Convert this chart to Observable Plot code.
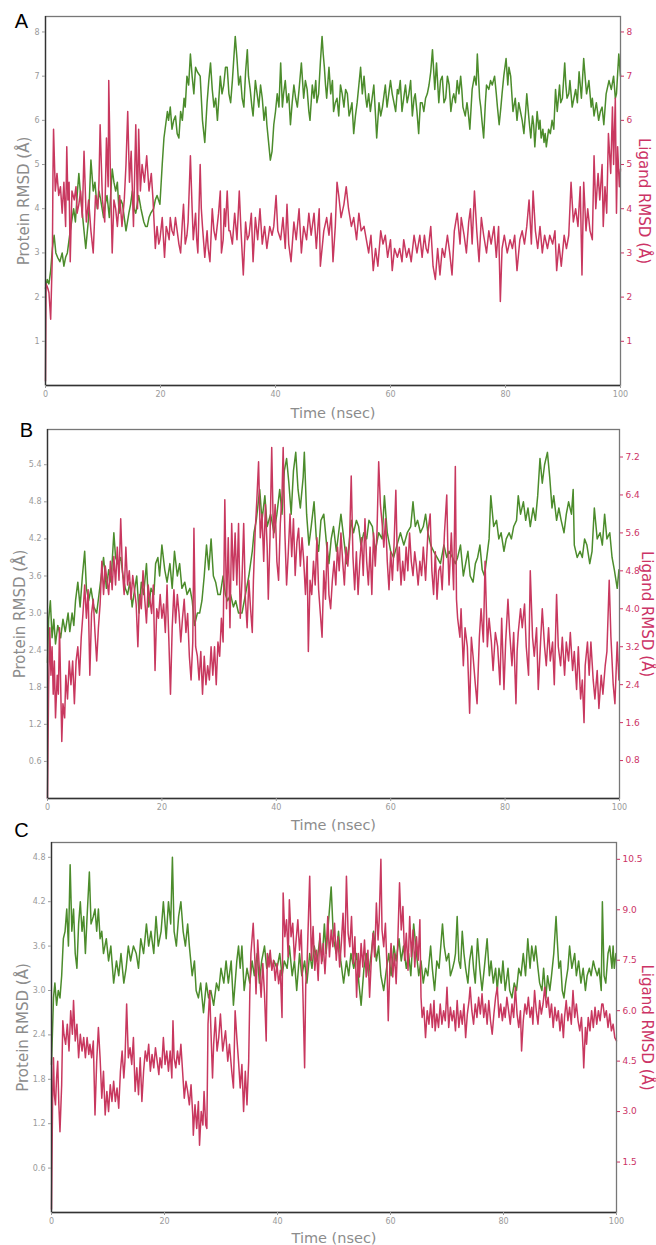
<!DOCTYPE html>
<html>
<head>
<meta charset="utf-8">
<script src="https://cdn.jsdelivr.net/npm/d3@7"></script>
<script src="https://cdn.jsdelivr.net/npm/@observablehq/plot@0.6"></script>
<style>
  html, body { margin: 0; padding: 0; background: #fff; }
  #wrap { position: relative; width: 656px; height: 1245px; }
  #wrap > svg, #wrap > figure { position: absolute; left: 0; margin: 0; }
</style>
</head>
<body>
<div id="wrap"></div>
<script>
// ---------- data: [time (nsec), RMSD] ----------
const proteinA = [[0,2.2],[0.3,2.4],[0.6,2.3],[0.9,2.6],[1.2,3.1],[1.5,3.4],[1.8,3.0],[2.1,2.9],[2.5,2.8],[2.9,3.0],[3.2,2.7],[3.5,2.9],[3.8,3.0],[4.3,3.5],[4.9,4.0],[5.2,3.7],[5.5,4.3],[5.8,4.8],[6.1,4.3],[6.4,3.9],[6.7,3.5],[7.0,3.1],[7.5,3.8],[7.9,5.1],[8.3,4.4],[8.6,4.6],[9.0,4.0],[9.3,4.4],[9.6,4.2],[10.1,3.8],[10.4,4.1],[10.7,4.3],[11.1,3.8],[11.6,4.9],[11.9,4.6],[12.2,4.4],[12.5,4.6],[12.8,3.9],[13.1,4.2],[13.4,4.1],[13.7,3.8],[14.0,3.5],[14.5,3.9],[14.8,4.1],[15.1,4.4],[15.4,4.0],[15.7,3.9],[16.2,4.3],[16.6,4.0],[17.1,3.7],[17.4,3.6],[17.7,3.6],[18.0,3.8],[18.3,3.9],[18.8,4.0],[19.1,4.2],[19.4,4.3],[19.9,4.1],[20.3,5.0],[20.6,5.6],[20.9,5.9],[21.2,6.2],[21.4,6.0],[21.7,6.3],[22.0,5.8],[22.3,6.0],[22.6,6.1],[22.9,5.7],[23.2,5.6],[23.5,6.2],[23.8,6.0],[24.1,6.5],[24.3,6.3],[24.6,7.0],[24.9,6.8],[25.2,7.5],[25.5,7.0],[25.8,6.6],[26.1,7.2],[26.4,7.1],[26.9,7.0],[27.3,6.0],[27.7,5.5],[28.1,6.4],[28.4,6.9],[28.7,7.3],[29.0,6.7],[29.3,6.3],[29.6,6.5],[29.9,6.0],[30.4,7.0],[30.7,6.6],[31.0,6.8],[31.3,7.2],[31.6,7.2],[31.9,6.6],[32.2,6.4],[32.5,6.9],[32.7,7.3],[33.0,7.9],[33.3,7.4],[33.6,6.8],[33.9,7.0],[34.2,6.5],[34.5,6.3],[34.8,7.1],[35.1,7.6],[35.3,7.0],[35.6,6.7],[35.9,6.3],[36.1,6.1],[36.5,6.9],[36.8,6.6],[37.1,6.3],[37.4,6.8],[37.7,6.5],[38.0,6.0],[38.3,6.3],[38.5,5.9],[38.8,5.5],[39.1,5.1],[39.4,5.3],[39.7,5.9],[40.0,6.2],[40.3,6.6],[40.6,6.3],[40.9,7.3],[41.2,6.3],[41.4,6.6],[41.7,6.9],[42.0,6.4],[42.3,6.6],[42.6,5.9],[42.9,6.4],[43.2,6.8],[43.5,6.5],[43.8,6.3],[44.1,6.7],[44.5,7.3],[44.9,6.5],[45.2,6.9],[45.5,6.7],[45.8,6.2],[46.0,6.0],[46.4,6.8],[46.7,6.5],[47.0,6.9],[47.2,6.4],[47.5,6.6],[47.8,7.3],[48.1,7.9],[48.3,7.5],[48.5,7.2],[48.7,6.8],[48.9,6.5],[49.3,7.2],[49.6,6.6],[49.9,6.9],[50.1,6.2],[50.4,6.4],[50.7,6.5],[51.0,6.1],[51.3,6.8],[51.6,6.6],[51.9,6.3],[52.2,6.7],[52.5,6.6],[52.8,6.1],[53.0,6.2],[53.3,6.4],[53.6,5.7],[53.9,6.1],[54.2,6.4],[54.5,6.8],[54.8,7.2],[55.1,6.6],[55.4,7.0],[55.7,6.5],[55.9,6.3],[56.2,6.6],[56.5,6.2],[56.8,6.5],[57.1,6.8],[57.4,6.1],[57.6,5.6],[58.0,6.4],[58.3,6.1],[58.6,6.3],[58.9,6.6],[59.1,6.8],[59.4,6.3],[59.7,6.6],[60.0,6.9],[60.3,6.6],[60.6,6.4],[60.9,6.2],[61.2,6.7],[61.4,6.6],[61.7,6.9],[62.0,6.2],[62.3,6.5],[62.6,6.8],[62.9,6.4],[63.2,6.6],[63.5,6.9],[63.8,6.1],[64.1,6.5],[64.3,6.6],[64.6,6.2],[64.9,5.7],[65.2,6.4],[65.5,6.4],[65.8,6.2],[66.1,6.5],[66.4,6.6],[66.7,6.8],[67.0,7.1],[67.3,7.6],[67.7,6.7],[68.0,7.3],[68.4,6.4],[68.7,6.9],[69.0,7.0],[69.3,6.4],[69.6,6.5],[69.9,7.0],[70.2,6.8],[70.5,6.2],[70.8,6.5],[71.0,6.6],[71.3,6.4],[71.6,6.9],[71.9,6.6],[72.2,7.0],[72.4,6.7],[72.6,6.3],[73.0,6.1],[73.3,6.4],[73.5,6.2],[73.8,5.8],[74.2,6.7],[74.6,7.0],[74.9,6.8],[75.1,7.5],[75.5,6.5],[75.7,6.3],[75.9,6.0],[76.2,5.6],[76.5,6.4],[76.7,6.8],[77.1,6.7],[77.4,6.9],[77.7,6.8],[78.1,7.0],[78.4,6.6],[78.6,6.3],[78.9,5.9],[79.2,6.3],[79.4,6.6],[79.7,7.0],[80.1,7.4],[80.4,6.8],[80.6,7.2],[80.9,7.0],[81.1,6.6],[81.3,6.2],[81.7,6.5],[82.0,6.0],[82.3,6.4],[82.6,6.2],[82.9,6.0],[83.2,5.7],[83.5,6.2],[83.7,6.6],[84.1,6.0],[84.4,5.6],[84.7,6.1],[84.9,5.9],[85.1,5.4],[85.5,6.2],[85.8,5.8],[86.0,6.0],[86.2,5.6],[86.5,5.8],[86.7,5.5],[86.9,5.7],[87.1,5.4],[87.5,5.8],[87.8,5.7],[88.1,6.0],[88.4,5.8],[88.7,6.7],[89.0,6.2],[89.4,6.8],[89.6,6.4],[89.9,6.5],[90.3,7.3],[90.5,6.8],[90.7,6.5],[91.0,6.6],[91.2,6.9],[91.6,6.3],[91.9,6.5],[92.2,6.7],[92.5,6.4],[92.8,7.1],[93.2,6.5],[93.6,7.4],[93.9,6.9],[94.1,6.6],[94.5,6.9],[94.9,6.3],[95.1,6.5],[95.4,6.1],[95.8,6.4],[96.2,6.0],[96.5,6.2],[96.8,6.3],[97.1,5.9],[97.5,6.6],[98.0,6.9],[98.4,6.7],[98.8,7.0],[99.1,6.5],[99.3,6.6],[99.7,7.5],[100.0,7.0]];

const ligandA = [[0,0.1],[0.1,2.3],[0.4,2.2],[0.6,2.1],[0.9,1.5],[1.2,3.0],[1.3,4.8],[1.4,5.8],[1.7,4.4],[2.0,4.8],[2.3,4.3],[2.6,4.5],[2.9,3.9],[3.2,4.6],[3.5,3.6],[3.7,5.4],[3.9,4.2],[4.1,4.6],[4.3,2.8],[4.6,4.4],[5.0,4.2],[5.3,4.5],[5.5,3.9],[5.8,4.1],[6.1,4.4],[6.4,3.8],[6.7,5.3],[7.1,3.7],[7.5,4.2],[7.9,3.5],[8.3,3.0],[8.7,4.3],[9.1,4.0],[9.3,4.6],[9.5,5.9],[9.9,4.2],[10.3,3.7],[10.6,5.6],[10.9,4.5],[11.0,6.9],[11.3,4.7],[11.6,3.0],[11.9,4.2],[12.2,4.0],[12.5,3.6],[12.9,4.3],[13.3,3.6],[13.7,4.2],[14.0,5.0],[14.3,6.2],[14.6,4.6],[14.9,5.3],[15.3,3.6],[15.7,5.9],[16.0,4.0],[16.2,5.8],[16.5,4.4],[16.8,5.0],[17.2,4.6],[17.6,5.2],[18.0,4.4],[18.4,4.8],[18.7,4.2],[19.1,3.1],[19.4,3.6],[19.7,3.2],[19.9,3.3],[20.3,3.8],[20.7,2.9],[21.0,3.6],[21.2,3.5],[21.5,3.3],[21.7,3.8],[22.0,3.5],[22.3,3.4],[22.6,3.8],[22.9,3.5],[23.2,3.2],[23.5,3.0],[23.8,3.7],[24.0,4.1],[24.3,3.2],[24.6,3.4],[24.8,3.7],[25.2,5.2],[25.5,4.0],[25.7,3.3],[26.1,3.9],[26.3,3.3],[26.5,3.0],[26.9,5.0],[27.1,4.0],[27.3,3.6],[27.7,2.9],[28.1,3.5],[28.3,3.1],[28.6,2.8],[29.0,4.0],[29.3,3.5],[29.6,3.3],[30.1,3.9],[30.4,4.4],[30.6,3.0],[30.9,3.3],[31.1,4.0],[31.3,3.6],[31.6,4.4],[31.9,3.5],[32.1,3.5],[32.5,3.2],[32.9,3.9],[33.3,3.3],[33.7,4.4],[34.0,3.5],[34.4,2.5],[34.8,3.7],[35.1,3.3],[35.4,3.4],[35.8,3.9],[36.1,2.8],[36.5,3.8],[36.9,3.3],[37.3,4.0],[37.7,3.2],[38.1,3.6],[38.5,3.1],[39.0,3.6],[39.4,3.4],[39.7,3.6],[40.1,4.3],[40.4,3.5],[40.9,3.3],[41.3,3.8],[41.7,3.1],[42.0,4.1],[42.3,3.2],[42.7,2.8],[43.2,3.7],[43.6,3.3],[44.1,4.0],[44.5,3.0],[44.9,3.6],[45.4,3.3],[45.8,3.9],[46.2,3.4],[46.7,3.9],[47.1,3.1],[47.6,4.0],[47.8,2.7],[48.4,3.5],[48.9,3.8],[49.3,3.4],[49.7,3.9],[50.0,2.8],[50.4,3.6],[50.7,4.6],[51.0,4.3],[51.4,3.8],[51.9,4.1],[52.3,4.5],[52.7,4.0],[53.2,3.6],[53.6,3.8],[54.1,3.3],[54.5,3.9],[54.9,3.5],[55.4,3.6],[55.8,3.3],[56.2,3.0],[56.6,3.4],[57.0,2.6],[57.4,3.1],[57.8,2.7],[58.3,3.5],[58.7,3.2],[59.1,3.4],[59.5,2.9],[60.0,3.3],[60.3,2.6],[60.7,3.1],[61.2,2.9],[61.6,3.1],[62.0,2.8],[62.3,3.3],[62.8,2.9],[63.2,3.1],[63.6,2.8],[64.1,3.4],[64.6,3.0],[65.1,3.4],[65.5,2.9],[65.9,3.4],[66.2,3.1],[66.5,3.0],[67.0,3.6],[67.4,2.7],[67.8,2.4],[68.2,3.1],[68.6,2.5],[69.0,3.1],[69.4,2.9],[69.9,3.4],[70.3,3.0],[70.7,2.5],[71.1,3.5],[71.6,3.9],[72.1,3.2],[72.3,3.8],[72.8,3.4],[73.2,3.0],[73.6,3.7],[73.9,4.0],[74.2,3.2],[74.6,4.4],[75.0,3.5],[75.4,2.8],[75.8,3.8],[76.2,3.4],[76.7,3.0],[77.1,3.5],[77.5,3.2],[78.0,3.6],[78.4,2.9],[78.8,3.6],[79.1,1.9],[79.4,3.1],[79.8,3.4],[80.3,3.0],[80.8,3.3],[81.2,3.1],[81.6,3.4],[82.0,2.6],[82.5,3.3],[82.9,3.5],[83.3,3.2],[83.7,3.6],[84.1,4.2],[84.5,3.2],[84.8,4.4],[85.2,3.5],[85.6,3.1],[86.0,3.6],[86.4,3.0],[86.8,3.4],[87.3,3.1],[87.7,3.4],[88.2,3.2],[88.6,3.5],[88.9,2.6],[89.3,3.2],[89.7,2.7],[90.2,3.4],[90.6,3.1],[91.0,3.4],[91.4,4.6],[91.8,3.7],[92.2,4.0],[92.6,3.6],[93.0,4.5],[93.3,2.5],[93.6,4.6],[94.0,3.5],[94.3,4.0],[94.7,3.5],[95.1,3.3],[95.4,5.2],[95.7,4.0],[96.1,4.8],[96.4,4.2],[96.8,5.0],[97.0,3.6],[97.3,4.5],[97.6,3.9],[97.9,5.7],[98.3,4.8],[98.6,6.3],[98.8,5.0],[99.1,6.5],[99.3,3.9],[99.5,5.4],[99.8,4.5],[100.0,4.9]];

const proteinB = [[0,2.2],[0.2,2.9],[0.5,3.2],[0.8,2.6],[1.1,2.9],[1.4,2.5],[1.8,2.8],[2.3,2.6],[2.7,2.9],[3.1,2.7],[3.6,3.0],[3.9,2.7],[4.3,3.0],[4.6,2.8],[4.9,3.2],[5.3,3.5],[5.7,3.1],[6.1,3.6],[6.5,4.0],[6.8,3.4],[7.2,3.2],[7.6,3.4],[8.1,3.1],[8.6,3.0],[9.0,3.3],[9.4,3.6],[9.8,3.9],[10.3,3.4],[10.7,3.7],[11.1,3.5],[11.6,4.3],[11.9,3.9],[12.3,3.8],[12.8,3.9],[13.2,3.6],[13.6,3.4],[14.0,3.3],[14.4,3.5],[14.8,3.1],[15.1,3.3],[15.6,3.6],[16.0,3.0],[16.4,3.5],[16.8,3.3],[17.3,3.8],[17.7,3.1],[18.1,3.4],[18.6,3.3],[18.9,3.8],[19.3,3.9],[19.6,3.6],[20.0,4.1],[20.5,3.7],[20.9,3.5],[21.4,3.8],[21.8,3.4],[22.2,4.0],[22.7,3.6],[23.1,3.8],[23.5,3.4],[24.0,3.5],[24.4,3.3],[24.9,3.4],[25.3,3.2],[25.7,2.8],[26.2,3.0],[26.6,3.0],[27.0,3.2],[27.4,3.6],[27.8,4.1],[28.2,3.7],[28.6,4.2],[29.0,3.6],[29.4,3.5],[29.8,3.3],[30.2,3.3],[30.7,3.6],[31.1,3.3],[31.5,3.2],[32.0,3.3],[32.5,3.1],[32.9,3.2],[33.4,3.0],[34.0,3.0],[34.6,3.3],[35.2,3.6],[35.8,4.0],[36.1,4.3],[36.5,4.5],[37.1,5.0],[37.5,4.5],[38.0,4.9],[38.4,4.4],[39.0,4.6],[39.6,4.3],[40.1,4.6],[40.6,5.0],[41.0,4.6],[41.4,5.3],[41.8,5.5],[42.2,5.1],[42.6,4.6],[43.0,5.3],[43.4,5.6],[43.8,5.0],[44.2,4.7],[44.7,5.2],[44.9,5.6],[45.3,4.6],[45.7,4.1],[46.1,4.4],[46.6,4.8],[47.0,4.2],[47.4,4.0],[47.8,4.5],[48.3,4.6],[48.8,4.1],[49.2,3.8],[49.6,4.2],[50.0,4.4],[50.5,4.0],[50.9,4.3],[51.3,4.6],[51.8,4.2],[52.3,3.8],[52.7,4.1],[53.1,4.5],[53.5,4.3],[54.0,4.5],[54.4,4.4],[54.8,4.1],[55.3,4.3],[55.8,4.2],[56.2,4.5],[56.8,4.4],[57.3,4.0],[57.9,4.3],[58.5,4.2],[58.9,4.9],[59.4,4.3],[60.0,4.0],[60.5,3.9],[61.1,4.1],[61.7,4.3],[62.3,4.1],[62.9,4.3],[63.5,4.4],[63.9,4.8],[64.3,4.4],[64.7,4.5],[65.2,4.3],[65.7,4.4],[66.1,4.6],[66.5,4.3],[67.0,4.1],[67.5,4.0],[68.1,3.9],[68.7,3.8],[69.3,4.1],[69.8,3.9],[70.2,4.0],[70.8,3.9],[71.3,3.8],[71.7,3.9],[72.2,4.1],[72.7,3.6],[73.1,3.8],[73.5,4.0],[73.9,3.6],[74.4,3.5],[74.8,3.8],[75.2,3.9],[75.6,4.1],[76.0,3.7],[76.4,3.6],[76.8,3.9],[77.2,4.2],[77.5,4.9],[78.0,4.4],[78.5,4.5],[78.9,4.2],[79.3,4.3],[79.8,4.0],[80.2,4.2],[80.7,4.3],[81.1,4.2],[81.5,4.4],[82.0,4.5],[82.3,4.9],[82.7,4.6],[83.2,4.8],[83.6,4.5],[84.0,4.7],[84.4,4.4],[84.9,4.7],[85.3,4.5],[85.7,4.9],[86.1,5.5],[86.5,5.1],[86.9,5.4],[87.4,5.6],[87.8,5.2],[88.2,4.7],[88.5,4.9],[89.0,4.5],[89.4,4.7],[89.8,4.5],[90.3,4.3],[90.7,4.6],[91.1,4.8],[91.6,4.6],[91.9,5.0],[92.1,4.1],[92.6,3.9],[93.1,4.0],[93.5,3.9],[93.9,4.2],[94.3,4.1],[94.8,3.8],[95.2,4.0],[95.6,4.7],[96.1,4.2],[96.6,4.3],[97.0,4.1],[97.4,4.6],[97.8,4.2],[98.3,4.3],[98.7,3.9],[99.1,3.7],[99.6,3.4],[99.9,3.7]];

const ligandB = [[0,0.0],[0.2,2.4],[0.4,3.6],[0.6,2.6],[0.8,3.2],[1.0,2.2],[1.2,2.9],[1.4,1.7],[1.7,2.6],[1.9,2.2],[2.1,3.6],[2.3,2.4],[2.5,1.2],[2.7,2.0],[3.0,1.7],[3.2,2.6],[3.5,2.1],[3.8,2.9],[4.1,2.4],[4.4,2.9],[4.7,2.0],[5.0,2.9],[5.3,3.2],[5.6,2.6],[5.9,3.4],[6.2,3.9],[6.5,4.5],[6.8,3.8],[7.1,4.4],[7.4,2.6],[7.7,3.9],[8.0,4.2],[8.3,3.5],[8.6,2.9],[8.9,3.6],[9.2,4.1],[9.5,5.0],[9.8,4.3],[10.1,4.9],[10.4,4.6],[10.7,4.3],[11.0,5.0],[11.3,4.4],[11.6,5.1],[11.9,4.5],[12.2,5.3],[12.5,4.6],[12.8,5.9],[13.1,4.8],[13.4,4.3],[13.7,5.3],[14.0,4.5],[14.3,4.8],[14.6,4.2],[14.9,4.7],[15.2,4.4],[15.5,4.1],[15.8,3.2],[16.1,4.3],[16.4,4.0],[16.7,4.8],[17.0,4.2],[17.3,3.7],[17.6,4.5],[17.9,4.2],[18.2,3.9],[18.5,4.5],[18.8,2.7],[19.1,4.0],[19.4,3.8],[19.7,4.3],[20.0,3.8],[20.3,4.1],[20.6,3.5],[20.9,4.5],[21.2,3.4],[21.5,2.2],[21.8,3.6],[22.1,4.4],[22.4,3.7],[22.7,4.3],[23.0,3.9],[23.3,3.3],[23.6,3.8],[23.9,4.2],[24.2,3.5],[24.5,3.9],[24.8,3.0],[25.1,2.5],[25.4,3.3],[25.6,5.7],[25.9,3.2],[26.2,3.0],[26.5,2.5],[26.8,3.1],[27.1,2.2],[27.4,3.0],[27.7,2.4],[28.0,2.8],[28.3,2.5],[28.6,3.2],[28.9,2.6],[29.2,3.2],[29.5,2.4],[29.8,3.3],[30.1,3.0],[30.4,3.8],[30.7,3.3],[31.0,6.3],[31.3,4.0],[31.6,5.5],[31.9,3.6],[32.2,5.8],[32.5,4.6],[32.8,5.6],[33.1,4.5],[33.4,5.8],[33.7,3.8],[34.0,4.6],[34.3,5.8],[34.6,4.2],[34.9,3.6],[35.2,4.6],[35.5,4.0],[35.8,3.5],[36.0,4.6],[36.3,5.6],[36.6,6.3],[36.9,7.1],[37.2,5.5],[37.5,6.0],[37.8,5.0],[38.1,6.2],[38.4,5.3],[38.6,4.2],[38.9,5.5],[39.2,7.4],[39.5,5.5],[39.8,6.2],[40.1,5.0],[40.4,4.6],[40.7,5.8],[41.0,6.4],[41.2,7.4],[41.5,5.6],[41.8,4.5],[42.1,5.2],[42.4,6.0],[42.7,5.1],[43.0,5.9],[43.3,4.7],[43.6,5.4],[43.9,5.7],[44.2,4.9],[44.5,5.5],[44.8,5.0],[45.1,4.3],[45.4,5.1],[45.6,3.1],[45.9,4.6],[46.2,4.3],[46.5,5.0],[46.8,4.5],[47.1,5.5],[47.4,4.4],[47.7,3.9],[48.0,3.4],[48.3,4.8],[48.6,4.2],[48.9,5.4],[49.2,4.3],[49.5,4.0],[49.8,4.6],[50.1,5.0],[50.4,4.5],[50.7,5.3],[51.0,4.8],[51.3,5.6],[51.6,5.0],[51.9,4.5],[52.2,5.3],[52.5,4.9],[52.8,5.4],[53.1,6.8],[53.4,5.1],[53.7,4.4],[54.0,5.2],[54.3,4.3],[54.6,5.0],[54.9,5.5],[55.2,4.7],[55.5,5.9],[55.8,5.0],[56.1,4.5],[56.4,5.3],[56.7,4.3],[57.0,5.6],[57.3,4.9],[57.6,5.6],[57.9,7.1],[58.2,6.2],[58.5,5.8],[58.8,5.3],[59.1,5.9],[59.4,5.0],[59.7,4.4],[60.0,5.2],[60.3,4.6],[60.6,5.4],[60.9,6.5],[61.2,4.8],[61.5,5.3],[61.8,4.5],[62.1,5.0],[62.4,4.6],[62.7,5.3],[63.0,4.8],[63.3,5.6],[63.6,5.0],[63.9,4.7],[64.2,5.2],[64.5,4.9],[64.8,4.5],[65.1,5.0],[65.4,4.7],[65.7,5.3],[66.1,4.6],[66.5,5.6],[66.9,6.0],[67.2,4.8],[67.5,4.3],[67.8,5.2],[68.1,4.2],[68.4,4.8],[68.7,4.9],[69.0,4.4],[69.4,5.6],[69.8,6.4],[70.0,5.2],[70.2,4.5],[70.6,5.6],[70.8,5.0],[71.0,4.4],[71.3,7.0],[71.5,4.2],[71.7,3.8],[72.1,3.4],[72.3,4.0],[72.7,2.8],[73.0,3.6],[73.4,3.2],[73.8,1.8],[74.1,3.4],[74.4,3.0],[74.8,2.4],[75.1,2.0],[75.5,3.4],[75.8,4.0],[76.2,3.3],[76.5,5.0],[76.9,3.2],[77.2,3.8],[77.6,3.3],[77.9,2.7],[78.3,3.5],[78.7,3.2],[79.1,2.4],[79.4,3.8],[79.8,2.3],[80.1,3.3],[80.5,4.2],[80.8,3.5],[81.2,2.8],[81.5,3.5],[81.9,2.0],[82.1,3.1],[82.3,3.5],[82.7,4.0],[83.0,3.6],[83.4,4.1],[83.7,3.2],[84.1,2.6],[84.4,4.8],[84.8,3.4],[85.1,3.0],[85.5,3.6],[85.8,2.3],[86.2,3.3],[86.5,4.0],[86.9,3.2],[87.2,2.8],[87.6,3.6],[87.9,2.9],[88.3,3.3],[88.6,2.4],[89.0,4.3],[89.3,3.2],[89.7,2.8],[90.0,3.4],[90.4,2.6],[90.7,3.3],[91.1,2.9],[91.4,3.5],[91.8,2.7],[92.1,3.1],[92.5,2.3],[92.8,3.2],[93.2,2.1],[93.5,2.5],[93.8,1.6],[94.0,2.8],[94.4,3.3],[94.7,2.6],[95.0,3.3],[95.4,2.5],[95.7,2.1],[96.1,2.7],[96.4,1.9],[96.8,2.6],[97.1,2.2],[97.5,2.8],[97.8,3.1],[98.2,4.6],[98.5,3.4],[98.9,2.4],[99.2,2.0],[99.6,3.3],[99.9,2.5]];

const proteinC = [[0,2.0],[0.35,2.9],[0.6,3.1],[0.9,2.8],[1.2,3.0],[1.5,2.9],[1.8,3.2],[2.1,3.7],[2.4,3.8],[2.7,4.1],[3.0,3.6],[3.3,4.7],[3.6,3.8],[3.9,4.1],[4.2,3.5],[4.5,3.3],[4.8,3.9],[5.1,4.2],[5.4,3.8],[5.7,4.0],[6.0,3.5],[6.3,4.0],[6.7,4.6],[7.0,3.9],[7.4,4.0],[7.7,4.1],[8.0,3.8],[8.3,4.1],[8.6,3.7],[8.9,3.8],[9.2,3.5],[9.7,3.7],[10.1,3.4],[10.5,3.6],[11.0,3.1],[11.5,3.4],[11.9,3.2],[12.3,3.5],[12.8,3.1],[13.2,3.3],[13.6,3.6],[14.0,3.4],[14.5,3.6],[15.0,3.5],[15.4,3.3],[15.8,3.7],[16.3,3.5],[16.8,3.9],[17.2,3.6],[17.6,3.8],[18.1,3.5],[18.5,4.0],[18.9,3.6],[19.4,3.8],[19.8,4.2],[20.3,3.7],[20.7,4.2],[21.1,3.9],[21.4,4.8],[21.7,3.8],[22.1,3.6],[22.5,4.0],[22.9,4.2],[23.3,3.8],[23.7,3.6],[24.1,3.9],[24.4,3.6],[24.9,3.2],[25.3,3.4],[25.6,3.0],[26.0,2.9],[26.4,3.1],[26.9,2.7],[27.4,3.1],[27.8,2.9],[28.2,3.0],[28.7,2.8],[29.2,3.1],[29.6,3.0],[30.0,3.3],[30.5,3.1],[30.9,3.4],[31.3,3.1],[31.8,3.4],[32.2,2.8],[32.8,3.4],[33.1,3.6],[33.4,3.3],[33.7,3.6],[34.1,3.0],[34.6,3.3],[35.1,3.1],[35.5,3.4],[35.9,3.2],[36.4,3.5],[36.8,3.1],[37.2,3.4],[37.7,3.6],[38.1,3.3],[38.6,3.5],[39.0,3.3],[39.4,3.4],[39.9,3.3],[40.4,3.5],[40.8,3.2],[41.2,3.4],[41.7,3.3],[42.1,3.6],[42.6,3.2],[43.0,3.4],[43.4,3.0],[43.9,3.5],[44.3,3.2],[44.8,3.4],[45.2,3.1],[45.7,3.5],[46.1,3.3],[46.5,3.6],[47.0,3.4],[47.5,3.7],[47.9,3.4],[48.3,3.9],[48.6,3.5],[49.1,4.0],[49.5,4.4],[49.9,3.7],[50.4,3.5],[50.8,3.8],[51.2,3.4],[51.7,3.1],[52.2,3.4],[52.6,3.2],[53.0,3.5],[53.5,3.3],[54.0,3.5],[54.4,3.1],[54.8,2.8],[55.3,3.3],[55.7,3.5],[56.1,3.2],[56.6,3.5],[57.0,3.8],[57.5,3.4],[57.9,3.6],[58.3,3.2],[58.8,3.0],[59.3,3.3],[59.7,3.5],[60.1,3.2],[60.6,3.6],[61.0,3.4],[61.5,3.7],[61.9,3.4],[62.3,3.6],[62.8,3.3],[63.2,3.5],[63.6,3.2],[64.1,3.9],[64.6,3.5],[65.0,3.2],[65.4,3.4],[65.8,3.1],[66.2,3.3],[66.6,3.2],[67.1,3.6],[67.4,3.3],[67.8,3.0],[68.2,3.4],[68.6,3.3],[69.0,3.7],[69.2,3.9],[69.5,3.6],[69.9,3.4],[70.3,3.5],[70.6,3.2],[71.0,3.3],[71.3,3.4],[71.5,3.5],[71.8,4.0],[72.1,3.4],[72.4,3.3],[72.7,3.8],[73.0,3.5],[73.3,3.3],[73.7,3.1],[74.0,3.4],[74.4,3.6],[74.7,3.3],[75.0,3.1],[75.4,3.7],[75.8,3.3],[76.2,3.0],[76.6,3.3],[77.1,3.7],[77.5,3.2],[77.8,3.4],[78.2,3.1],[78.6,3.3],[78.9,3.0],[79.2,3.3],[79.6,3.1],[79.9,3.4],[80.3,3.0],[80.8,3.3],[81.1,3.0],[81.5,2.9],[81.9,3.1],[82.3,3.0],[82.7,3.3],[83.1,3.2],[83.5,3.5],[83.9,3.2],[84.3,3.7],[84.7,3.3],[85.0,3.6],[85.4,3.4],[85.7,3.6],[86.1,3.3],[86.4,3.1],[86.8,3.0],[87.1,3.3],[87.5,2.9],[87.8,3.2],[88.2,3.0],[88.5,3.2],[88.9,3.5],[89.3,4.0],[89.5,3.7],[89.8,3.3],[90.1,3.4],[90.4,3.0],[90.7,2.9],[91.0,3.1],[91.4,3.3],[91.7,3.6],[92.1,3.3],[92.6,3.5],[92.9,3.2],[93.3,3.4],[93.7,3.1],[94.1,3.3],[94.5,3.0],[94.8,3.2],[95.2,3.3],[95.5,3.2],[95.9,3.4],[96.2,3.3],[96.6,3.2],[96.9,3.3],[97.3,3.0],[97.5,4.2],[97.8,3.2],[98.1,3.1],[98.5,3.5],[98.8,3.6],[99.2,3.3],[99.4,3.6],[99.6,3.3],[99.9,3.5]];

const ligandC = [[0,0.1],[0.2,3.5],[0.35,4.6],[0.5,3.5],[0.7,3.2],[0.9,4.0],[1.1,4.5],[1.3,3.2],[1.5,2.4],[1.8,3.8],[2.0,5.7],[2.2,5.3],[2.5,5.0],[2.8,5.6],[3.1,4.8],[3.4,6.0],[3.7,5.3],[3.9,6.3],[4.2,5.1],[4.5,5.6],[4.8,4.6],[5.1,5.3],[5.4,4.8],[5.7,5.2],[6.0,4.6],[6.3,5.2],[6.6,4.7],[6.8,5.0],[7.1,4.6],[7.4,5.1],[7.7,2.9],[8.0,4.5],[8.3,5.5],[8.6,4.6],[8.9,3.4],[9.2,4.2],[9.5,2.9],[9.8,3.6],[10.1,3.0],[10.4,3.8],[10.7,3.3],[11.0,3.9],[11.3,3.3],[11.6,3.7],[11.9,3.1],[12.2,4.2],[12.5,4.8],[12.8,4.0],[13.0,4.5],[13.3,6.2],[13.6,4.6],[13.9,4.9],[14.2,4.4],[14.5,5.2],[14.8,3.6],[15.1,4.3],[15.4,3.5],[15.7,4.6],[16.0,3.3],[16.3,4.2],[16.6,4.8],[16.9,4.5],[17.2,5.0],[17.5,4.2],[17.8,4.7],[18.1,4.3],[18.4,4.9],[18.7,4.5],[19.0,4.1],[19.2,4.6],[19.5,4.3],[19.8,5.2],[20.1,4.4],[20.4,4.8],[20.7,4.2],[21.0,4.8],[21.3,4.0],[21.5,5.7],[21.7,4.6],[22.0,4.3],[22.3,4.8],[22.6,4.4],[22.9,5.0],[23.2,4.2],[23.5,3.4],[23.8,3.9],[24.1,3.6],[24.4,3.2],[24.7,3.8],[25.0,2.9],[25.1,2.3],[25.4,3.2],[25.7,2.5],[26.0,3.3],[26.2,2.0],[26.5,3.0],[26.8,2.6],[27.0,3.6],[27.3,2.6],[27.5,2.5],[27.7,5.6],[28.0,6.6],[28.2,5.5],[28.5,4.0],[28.7,5.0],[29.0,5.8],[29.3,4.8],[29.6,5.2],[29.9,5.9],[30.3,4.8],[30.8,5.4],[31.2,4.5],[31.5,5.0],[31.9,4.2],[32.2,3.7],[32.5,6.0],[32.8,5.2],[33.1,4.5],[33.4,3.7],[33.7,4.4],[34.0,3.0],[34.3,4.2],[34.6,3.2],[34.9,4.5],[35.1,6.5],[35.3,7.7],[35.7,8.6],[36.0,7.5],[36.2,6.5],[36.5,8.1],[36.8,7.2],[37.1,6.4],[37.4,7.4],[37.7,6.5],[38.0,5.1],[38.2,7.7],[38.5,7.3],[38.7,7.8],[39.0,7.2],[39.3,7.5],[39.6,6.9],[39.9,7.4],[40.2,6.8],[40.5,7.2],[40.8,5.8],[41.0,9.5],[41.3,8.2],[41.6,8.7],[41.9,7.6],[42.1,9.3],[42.4,8.2],[42.7,8.6],[43.0,7.5],[43.3,8.1],[43.6,8.7],[43.9,7.8],[44.2,8.4],[44.5,6.5],[44.8,4.3],[45.0,6.8],[45.2,7.2],[45.5,8.9],[45.7,10.0],[46.0,7.5],[46.3,8.5],[46.6,7.2],[46.9,7.8],[47.2,6.9],[47.5,8.3],[47.8,7.4],[48.1,8.0],[48.4,7.1],[48.6,7.7],[48.9,8.8],[49.2,7.6],[49.5,8.4],[49.8,7.9],[50.1,8.6],[50.4,7.5],[50.7,8.2],[51.0,7.3],[51.3,8.0],[51.6,8.9],[51.9,7.6],[52.2,10.0],[52.5,8.3],[52.8,7.9],[53.1,8.8],[53.4,7.4],[53.7,8.2],[54.0,6.4],[54.3,7.7],[54.5,7.0],[54.8,8.0],[55.1,7.3],[55.4,8.1],[55.7,7.0],[56.0,7.8],[56.3,6.4],[56.6,7.5],[56.9,8.3],[57.2,7.6],[57.5,9.2],[57.8,8.1],[58.0,8.7],[58.3,10.5],[58.5,8.4],[58.8,7.9],[59.1,8.6],[59.4,7.2],[59.6,5.7],[59.9,7.4],[60.1,8.0],[60.4,7.0],[60.7,7.7],[61.0,6.8],[61.3,8.1],[61.6,9.8],[61.9,8.4],[62.2,9.1],[62.5,7.5],[62.8,8.3],[63.1,7.2],[63.4,8.8],[63.7,7.6],[64.0,8.4],[64.3,7.3],[64.6,8.2],[64.9,7.5],[65.2,8.7],[65.4,6.4],[65.6,5.8],[65.9,6.1],[66.2,5.2],[66.5,6.0],[66.8,5.6],[67.1,6.2],[67.4,5.5],[67.7,6.3],[67.9,5.4],[68.2,5.9],[68.5,5.5],[68.8,6.2],[69.1,5.6],[69.4,6.0],[69.7,5.7],[70.0,6.7],[70.3,5.5],[70.6,6.1],[70.9,5.7],[71.2,6.0],[71.5,5.4],[71.8,6.3],[72.1,5.5],[72.4,6.0],[72.7,5.6],[73.0,6.2],[73.3,5.2],[73.6,5.9],[73.9,6.3],[74.1,6.7],[74.4,6.0],[74.7,5.6],[75.0,6.2],[75.3,5.8],[75.6,6.4],[75.9,5.9],[76.2,6.5],[76.5,5.8],[76.8,6.2],[77.1,5.6],[77.4,6.3],[77.7,5.7],[78.0,5.3],[78.3,5.9],[78.6,6.4],[78.9,6.7],[79.2,5.8],[79.5,6.2],[79.8,5.7],[80.1,6.1],[80.3,5.8],[80.6,6.4],[80.9,6.0],[81.2,5.6],[81.5,6.2],[81.8,5.8],[82.1,6.7],[82.4,5.9],[82.7,5.5],[83.0,6.0],[83.2,4.8],[83.5,5.7],[83.8,6.2],[84.1,5.9],[84.4,6.4],[84.7,5.8],[85.0,6.1],[85.2,5.6],[85.5,6.6],[85.8,6.0],[86.1,5.6],[86.4,6.3],[86.7,5.9],[87.0,6.2],[87.3,6.7],[87.6,6.1],[87.9,6.4],[88.2,5.8],[88.5,6.2],[88.8,5.5],[89.1,6.1],[89.4,5.7],[89.7,6.0],[90.0,5.4],[90.3,5.9],[90.6,5.2],[90.8,5.8],[91.1,6.3],[91.4,5.7],[91.7,6.1],[92.0,5.6],[92.3,6.6],[92.6,5.8],[92.9,6.2],[93.2,5.7],[93.5,5.4],[93.8,5.8],[94.1,4.8],[94.2,4.3],[94.5,5.5],[94.7,5.0],[95.0,5.8],[95.3,5.4],[95.6,6.0],[95.9,5.5],[96.2,6.1],[96.5,5.6],[96.8,6.0],[97.1,5.7],[97.4,6.2],[97.6,6.2],[97.9,5.8],[98.2,6.0],[98.5,5.5],[98.8,5.9],[99.1,5.4],[99.4,5.6],[99.7,5.2],[100.0,5.1]];

// ---------- ticks / labels ----------
const timeTicks = [0, 20, 40, 60, 80, 100];
const leftTicksA = [1, 2, 3, 4, 5, 6, 7, 8];
const rightTicksA = [1, 2, 3, 4, 5, 6, 7, 8];
const leftTicksB = [0.6, 1.2, 1.8, 2.4, 3.0, 3.6, 4.2, 4.8, 5.4];
const rightTicksB = [0.8, 1.6, 2.4, 3.2, 4.0, 4.8, 5.6, 6.4, 7.2];
const leftTicksC = [0.6, 1.2, 1.8, 2.4, 3.0, 3.6, 4.2, 4.8];
const rightTicksC = [1.5, 3.0, 4.5, 6.0, 7.5, 9.0, 10.5];
const panelLetters = ["A", "B", "C"];
const xLabel = "Time (nsec)";
const leftLabel = "Protein RMSD (Å)";
const rightLabel = "Ligand RMSD (Å)";

// ---------- styling ----------
const GREEN = "#4c8c2c";
const RED = "#c8385f";
const RED_TEXT = "#cc3366";
const GRAY_TEXT = "#8c8c8c";
const TICK_GRAY = "#9a9a9a";

function panel(cfg) {
  const k = cfg.leftMax / cfg.rightMax;
  return Plot.plot({
    width: 656,
    height: cfg.height,
    marginTop: cfg.mt, marginBottom: cfg.mb, marginLeft: cfg.ml, marginRight: cfg.mr,
    style: {fontFamily: "DejaVu Sans, sans-serif", background: "transparent", overflow: "visible"},
    x: {domain: [0, 100]},
    y: {domain: [0, cfg.leftMax]},
    marks: [
      Plot.line(cfg.protein, {x: d => d[0], y: d => d[1], stroke: GREEN, strokeWidth: 1.5}),
      Plot.line(cfg.ligand, {x: d => d[0], y: d => d[1] * k, stroke: RED, strokeWidth: 1.5}),
      Plot.frame({stroke: "#777", strokeWidth: 1.3}),
      Plot.ruleX([0], {stroke: "#333", strokeWidth: 1.3}),
      Plot.ruleY([0], {stroke: "#333", strokeWidth: 1.3}),
      Plot.axisX({ticks: timeTicks, tickSize: 3, tickPadding: 3, fontSize: 8, color: TICK_GRAY, label: null, tickFormat: d3.format("d")}),
      Plot.axisY({ticks: cfg.leftTicks, anchor: "left", tickSize: 3, tickPadding: 3, fontSize: 8, color: TICK_GRAY, label: null, tickFormat: cfg.fmtL}),
      Plot.axisY({ticks: cfg.rightTicks.map(v => v * k), anchor: "right", tickSize: 3, tickPadding: 3, fontSize: 9, color: RED_TEXT, label: null, tickFormat: d => cfg.fmtR(d / k)}),
      Plot.text([cfg.letter], {frameAnchor: "top-left", textAnchor: "middle", lineAnchor: "middle", dx: cfg.ldx, dy: cfg.ldy, fontSize: 20, fill: "#000", fontFamily: "Liberation Sans, sans-serif"}),
      Plot.text([leftLabel], {frameAnchor: "left", textAnchor: "middle", lineAnchor: "middle", rotate: -90, dx: cfg.yldx, fontSize: 15, fill: GRAY_TEXT}),
      Plot.text([rightLabel], {frameAnchor: "right", textAnchor: "middle", lineAnchor: "middle", rotate: 90, dx: cfg.yrdx, fontSize: 15, fill: RED_TEXT}),
      Plot.text([xLabel], {frameAnchor: "bottom", textAnchor: "middle", lineAnchor: "middle", dy: cfg.xldy, fontSize: 14.5, fill: GRAY_TEXT})
    ]
  });
}

const wrap = document.getElementById("wrap");
const panels = [
  {top: 0, height: 418, mt: 16, mb: 33, ml: 45, mr: 36, protein: proteinA, ligand: ligandA,
   leftMax: 8.35, rightMax: 8.35, leftTicks: leftTicksA, rightTicks: rightTicksA,
   fmtL: d3.format("d"), fmtR: d3.format("d"), letter: panelLetters[0],
   ldx: -24, ldy: 5, yldx: -21, yrdx: 23, xldy: 28},
  {top: 418, height: 412, mt: 11, mb: 32, ml: 47, mr: 37, protein: proteinB, ligand: ligandB,
   leftMax: 5.97, rightMax: 7.78, leftTicks: leftTicksB, rightTicks: rightTicksB,
   fmtL: d3.format(".1f"), fmtR: d3.format(".1f"), letter: panelLetters[1],
   ldx: -21, ldy: 1, yldx: -27, yrdx: 27, xldy: 27},
  {top: 830, height: 415, mt: 12, mb: 33, ml: 51, mr: 40, protein: proteinC, ligand: ligandC,
   leftMax: 5.0, rightMax: 11.0, leftTicks: leftTicksC, rightTicks: rightTicksC,
   fmtL: d3.format(".1f"), fmtR: d3.format(".1f"), letter: panelLetters[2],
   ldx: -30, ldy: -12, yldx: -28, yrdx: 30, xldy: 26}
];
for (const p of panels) {
  const el = panel(p);
  el.style.top = p.top + "px";
  wrap.appendChild(el);
}
</script>
</body>
</html>
